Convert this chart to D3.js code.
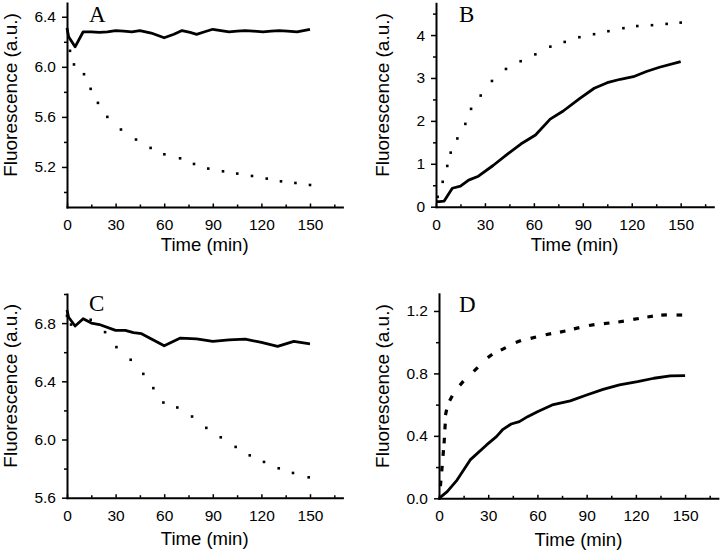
<!DOCTYPE html>
<html>
<head>
<meta charset="utf-8">
<script src="https://cdn.jsdelivr.net/npm/d3@7"></script>
<style>
  html, body { margin: 0; padding: 0; background: #fff; }
  svg { display: block; }
</style>
</head>
<body>
<svg id="chart" width="720" height="551"></svg>
<script>
// ---------------- data ----------------
const xMajorTicks = [0, 30, 60, 90, 120, 150];
const xMinorTicks = [15, 45, 75, 105, 135, 165];

// Panel A
const aSolidTime = [0, 1, 5, 10, 15, 20, 25, 30, 35, 40, 45, 52, 60, 66, 71, 76, 80, 85, 90, 95, 100, 105, 110, 115, 121, 126, 131, 136, 142, 146, 150];
const aSolidVal  = [6.31, 6.24, 6.16, 6.28, 6.28, 6.275, 6.28, 6.29, 6.285, 6.28, 6.29, 6.27, 6.232, 6.26, 6.29, 6.275, 6.26, 6.28, 6.30, 6.29, 6.28, 6.285, 6.29, 6.285, 6.28, 6.285, 6.29, 6.285, 6.28, 6.29, 6.30];
const aDotTime = [1.85, 4.3, 10.5, 14.6, 19.1, 24.9, 33.3, 42.6, 51.6, 60.1, 69.8, 78.4, 87.2, 96.3, 105.1, 114.2, 123.3, 132.1, 141, 150];
const aDotVal  = [6.128, 6.019, 5.941, 5.824, 5.712, 5.6, 5.499, 5.419, 5.352, 5.301, 5.269, 5.224, 5.187, 5.165, 5.147, 5.128, 5.107, 5.085, 5.072, 5.056];
const aYMajor = [5.2, 5.6, 6.0, 6.4];
const aYMinor = [5.0, 5.4, 5.8, 6.2];

// Panel B
const bSolidTime = [0, 2, 5, 10, 15, 20, 26, 35, 44, 52, 61, 70, 78, 88, 97, 105, 113, 121, 129, 137, 150];
const bSolidVal  = [0.12, 0.12, 0.13, 0.43, 0.48, 0.62, 0.71, 0.96, 1.23, 1.46, 1.67, 2.04, 2.23, 2.52, 2.76, 2.89, 2.97, 3.03, 3.15, 3.25, 3.38];
const bDotTime = [1, 4.1, 6.9, 9, 13.1, 18, 21.5, 27.4, 34.3, 42.9, 51.9, 60.9, 70.1, 78.9, 87.9, 96.9, 105.7, 114.9, 123.4, 132.4, 141.4, 150];
const bDotVal  = [0.23, 0.58, 0.95, 1.26, 1.59, 1.93, 2.28, 2.59, 2.93, 3.21, 3.39, 3.55, 3.73, 3.84, 3.95, 4.02, 4.09, 4.16, 4.21, 4.23, 4.26, 4.29];
const bYMajor = [0, 1, 2, 3, 4];
const bYMinor = [0.5, 1.5, 2.5, 3.5, 4.5];

// Panel C
const cSolidTime = [0, 1, 5, 10, 15, 20, 30, 36, 41, 46, 53, 60, 70, 80, 90, 100, 110, 120, 130, 140, 150];
const cSolidVal  = [6.89, 6.84, 6.78, 6.83, 6.80, 6.79, 6.75, 6.75, 6.735, 6.727, 6.685, 6.644, 6.697, 6.692, 6.674, 6.685, 6.69, 6.667, 6.64, 6.674, 6.658];
const cDotTime = [0, 2.5, 14.6, 23.5, 30.5, 39.3, 47.1, 53.3, 59.5, 68.1, 77.2, 86, 94.9, 104.1, 112.8, 121.6, 130.7, 139.5, 149.2];
const cDotVal  = [6.85, 6.79, 6.823, 6.738, 6.635, 6.548, 6.451, 6.353, 6.254, 6.22, 6.158, 6.08, 6.015, 5.949, 5.891, 5.846, 5.802, 5.77, 5.74];
const cYMajor = [5.6, 6.0, 6.4, 6.8];
const cYMinor = [5.8, 6.2, 6.6, 7.0];

// Panel D
const dSolidTime = [0, 5, 11, 19, 29, 35, 39, 44, 49, 54, 60, 69, 80, 90, 100, 110, 121, 131, 141, 150];
const dSolidVal  = [0, 0.043, 0.117, 0.246, 0.342, 0.395, 0.442, 0.476, 0.491, 0.523, 0.555, 0.598, 0.624, 0.662, 0.698, 0.726, 0.747, 0.769, 0.784, 0.786];
const dDotTime = [1, 1.8, 2.6, 3.2, 3.7, 4.3, 7.3, 13.8, 22.4, 31.1, 39.2, 48.4, 57.5, 66.7, 75.4, 83.9, 93.1, 102.2, 111, 120.1, 128.7, 137.2, 146.5];
const dDotVal  = [0.096, 0.19, 0.29, 0.37, 0.46, 0.55, 0.641, 0.737, 0.826, 0.912, 0.957, 1.004, 1.029, 1.051, 1.068, 1.089, 1.11, 1.121, 1.132, 1.149, 1.164, 1.174, 1.174];
const dYMajor = [0.0, 0.4, 0.8, 1.2];
const dYMinor = [0.2, 0.6, 1.0];

const panelLetters = ["A", "B", "C", "D"];
const xTitle = "Time (min)";
const yTitle = "Fluorescence (a.u.)";

// ---------------- layout ----------------
const SANS = "'Liberation Sans', Arial, Helvetica, sans-serif";
const SERIF = "'Liberation Serif', 'Times New Roman', serif";

const panels = [
  { letter: panelLetters[0], xr: [67, 342.4], yd: [4.88, 6.51], yr: [207, 3], fmt: ".1f",
    st: aSolidTime, sv: aSolidVal, dt: aDotTime, dv: aDotVal, yMaj: aYMajor, yMin: aYMinor,
    letterPos: [89, 22], yTitleX: 17, xTitleDy: 44, dash: false },
  { letter: panelLetters[1], xr: [436, 713.3], yd: [0, 4.74], yr: [206.7, 3.3], fmt: "d",
    st: bSolidTime, sv: bSolidVal, dt: bDotTime, dv: bDotVal, yMaj: bYMajor, yMin: bYMinor,
    letterPos: [459, 22], yTitleX: 389, xTitleDy: 44, dash: false },
  { letter: panelLetters[2], xr: [67, 342.4], yd: [5.6, 7.0], yr: [497.7, 294], fmt: ".1f",
    st: cSolidTime, sv: cSolidVal, dt: cDotTime, dv: cDotVal, yMaj: cYMajor, yMin: cYMinor,
    letterPos: [89, 311], yTitleX: 17, xTitleDy: 47.5, dash: false },
  { letter: panelLetters[3], xr: [439, 717.9], yd: [0, 1.31], yr: [498.3, 293.8], fmt: ".1f",
    st: dSolidTime, sv: dSolidVal, dt: dDotTime, dv: dDotVal, yMaj: dYMajor, yMin: dYMinor,
    letterPos: [459, 312], yTitleX: 389, xTitleDy: 48, dash: true }
];

const svg = d3.select("#chart");

panels.forEach(p => {
  const x = d3.scaleLinear().domain([0, 170]).range(p.xr);
  const y = d3.scaleLinear().domain(p.yd).range(p.yr);
  const g = svg.append("g");
  const y0 = p.yr[0];

  // minor y ticks
  g.append("g").attr("transform", `translate(${p.xr[0]},0)`)
    .call(d3.axisLeft(y).tickValues(p.yMin).tickSize(3).tickFormat(""))
    .call(s => s.select(".domain").remove())
    .call(s => s.selectAll("line").attr("stroke-width", 1.5));
  // major y ticks + labels
  g.append("g").attr("transform", `translate(${p.xr[0]},0)`)
    .call(d3.axisLeft(y).tickValues(p.yMaj).tickSize(5).tickSizeOuter(0).tickPadding(6).tickFormat(d3.format(p.fmt)))
    .call(s => s.select(".domain").attr("stroke-width", 2).attr("stroke-linecap", "square"))
    .call(s => s.selectAll("line").attr("stroke-width", 1.5))
    .call(s => s.selectAll("text").style("font-size", "15.5px").style("font-family", SANS));

  // minor x ticks (upward)
  g.append("g").attr("transform", `translate(0,${y0})`)
    .call(d3.axisBottom(x).tickValues(xMinorTicks).tickSize(-2.5).tickFormat(""))
    .call(s => s.select(".domain").remove())
    .call(s => s.selectAll("line").attr("stroke-width", 1.5));
  // major x ticks + labels
  g.append("g").attr("transform", `translate(0,${y0})`)
    .call(d3.axisBottom(x).tickValues(xMajorTicks).tickSize(-3.5).tickSizeOuter(0).tickPadding(12).tickFormat(d3.format("d")))
    .call(s => s.select(".domain").attr("stroke-width", 2).attr("stroke-linecap", "square"))
    .call(s => s.selectAll("line").attr("stroke-width", 1.5))
    .call(s => s.selectAll("text").style("font-size", "15.5px").style("font-family", SANS));

  // titles
  g.append("text")
    .attr("x", (p.xr[0] + p.xr[1]) / 2)
    .attr("y", y0 + p.xTitleDy)
    .attr("text-anchor", "middle")
    .style("font-size", "18.5px").style("font-family", SANS)
    .text(xTitle);
  g.append("text")
    .attr("transform", `translate(${p.yTitleX},${(p.yr[0] + p.yr[1]) / 2 - 10}) rotate(-90)`)
    .attr("text-anchor", "middle")
    .style("font-size", "19px").style("font-family", SANS)
    .text(yTitle);

  // panel letter
  g.append("text")
    .attr("x", p.letterPos[0]).attr("y", p.letterPos[1])
    .style("font-family", SERIF)
    .style("font-size", "23px")
    .text(p.letter);

  // solid line
  const solid = p.st.map((t, i) => [t, p.sv[i]]);
  g.append("path")
    .datum(solid)
    .attr("fill", "none")
    .attr("stroke", "#000")
    .attr("stroke-width", 2.8)
    .attr("stroke-linejoin", "round")
    .attr("d", d3.line().x(d => x(d[0])).y(d => y(d[1])));

  // dotted series
  const dots = p.dt.map((t, i) => [t, p.dv[i]]);
  if (!p.dash) {
    g.selectAll("rect.dot").data(dots).enter().append("rect")
      .attr("class", "dot")
      .attr("x", d => x(d[0]) - 1.3)
      .attr("y", d => y(d[1]) - 1.3)
      .attr("width", 2.6).attr("height", 2.6)
      .attr("fill", "#000");
  } else {
    g.selectAll("rect.dash").data(dots).enter().append("rect")
      .attr("class", "dash")
      .attr("x", -2.8).attr("y", -1.6)
      .attr("width", 5.6).attr("height", 3.2)
      .attr("fill", "#000")
      .attr("transform", (d, i) => {
        const a = dots[Math.max(0, i - 1)], b = dots[Math.min(dots.length - 1, i + 1)];
        const ang = Math.atan2(y(b[1]) - y(a[1]), x(b[0]) - x(a[0])) * 180 / Math.PI;
        return `translate(${x(d[0])},${y(d[1])}) rotate(${ang})`;
      });
  }
});
</script>
</body>
</html>
